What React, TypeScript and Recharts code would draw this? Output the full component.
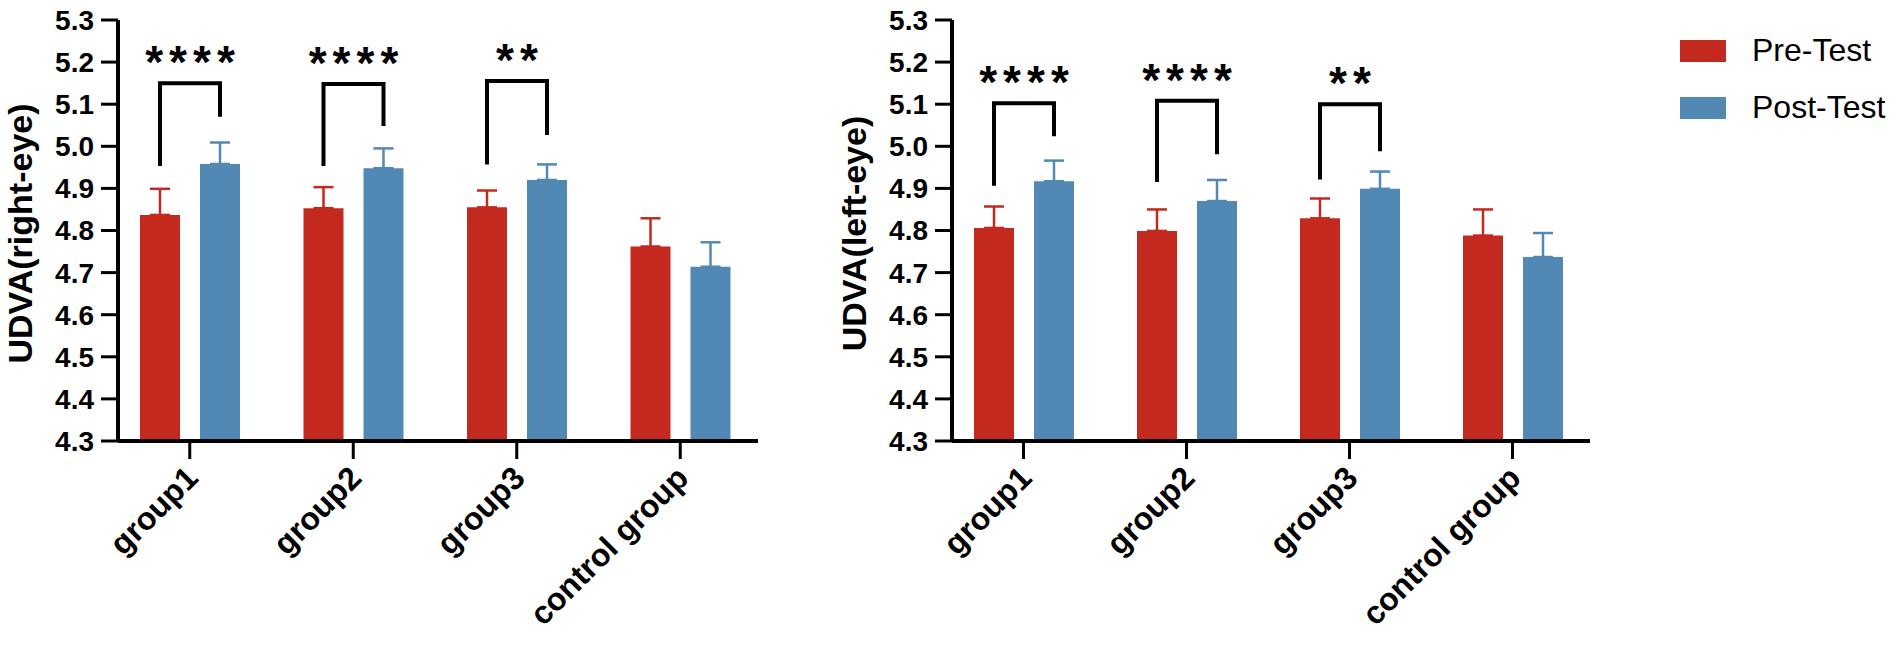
import { Bar, BarChart, ErrorBar, LabelList, Legend, XAxis, YAxis } from "recharts";

// categories and tick labels
const CATEGORIES = ["group1", "group2", "group3", "control group"];
const Y_TICKS = [4.3, 4.4, 4.5, 4.6, 4.7, 4.8, 4.9, 5.0, 5.1, 5.2, 5.3];
const SERIES = ["Pre-Test", "Post-Test"];

// right eye: means and SD (upper whisker only)
const RIGHT_PRE = [4.837, 4.853, 4.855, 4.762];
const RIGHT_PRE_SD = [0.062, 0.05, 0.04, 0.067];
const RIGHT_POST = [4.958, 4.948, 4.92, 4.714];
const RIGHT_POST_SD = [0.051, 0.047, 0.037, 0.058];

// left eye
const LEFT_PRE = [4.806, 4.799, 4.829, 4.788];
const LEFT_PRE_SD = [0.051, 0.051, 0.047, 0.062];
const LEFT_POST = [4.917, 4.87, 4.899, 4.737];
const LEFT_POST_SD = [0.049, 0.05, 0.041, 0.057];

// significance brackets (data units): top, pre-leg end, post-leg end, stars
const RIGHT_BRACKET_TOP = [5.15, 5.148, 5.155];
const RIGHT_BRACKET_PRE = [4.953, 4.953, 4.957];
const RIGHT_BRACKET_POST = [5.07, 5.048, 5.027];
const RIGHT_STARS = ["****", "****", "**"];

const LEFT_BRACKET_TOP = [5.102, 5.108, 5.1];
const LEFT_BRACKET_PRE = [4.906, 4.915, 4.921];
const LEFT_BRACKET_POST = [5.024, 4.981, 4.988];
const LEFT_STARS = ["****", "****", "**"];

const RED = "#C3291F";
const BLUE = "#5189B4";
const FONT = "'Liberation Sans', Arial, Helvetica, sans-serif";
const Y_MIN = 4.3;
const BAR_SIZE = 40;
const BAR_GAP = 20;

const buildRows = (pre: number[], preSd: number[], post: number[], postSd: number[]) =>
    CATEGORIES.map((name, i) => ({
        name,
        pre: pre[i],
        post: post[i],
        preErr: [0, preSd[i]],
        postErr: [0, postSd[i]],
    }));

const XTick = (props: any) => {
    const { x, y, payload } = props;
    const px = x + 10;
    const py = y + 19;
    return (
        <text
            x={px}
            y={py}
            transform={`rotate(-45 ${px} ${py})`}
            textAnchor="end"
            fontFamily={FONT}
            fontWeight="bold"
            fontSize={32}
            fill="#000"
        >
            {payload.value}
        </text>
    );
};

const YLabel = (props: any) => {
    const vb = props.viewBox ?? props;
    const cx = vb.x - 6;
    const cy = vb.y + vb.height / 2 + 3;
    return (
        <text
            x={cx}
            y={cy}
            transform={`rotate(-90 ${cx} ${cy})`}
            textAnchor="middle"
            fontFamily={FONT}
            fontWeight="bold"
            fontSize={34}
            fill="#000"
        >
            {props.text}
        </text>
    );
};

const makeBracket = (post: number[], tops: number[], preEnds: number[], postEnds: number[], stars: string[]) =>
    (props: any) => {
        const index = props.index;
        const mark = stars[index];
        if (!mark) return null;
        const vb = props.viewBox ?? props;
        const { x, y, width, height } = vb;
        const base = y + height;
        const perUnit = height / (post[index] - Y_MIN);
        const py = (v: number) => base - (v - Y_MIN) * perUnit;
        const rx = x + width / 2;
        const lx = rx - width - BAR_GAP;
        const top = py(tops[index]);
        return (
            <g>
                <path
                    d={`M${lx},${py(preEnds[index])} V${top} H${rx} V${py(postEnds[index])}`}
                    stroke="#000"
                    strokeWidth={4}
                    fill="none"
                />
                <text
                    x={(lx + rx) / 2 + 3}
                    y={top - 5}
                    textAnchor="middle"
                    fontFamily={FONT}
                    fontWeight="bold"
                    fontSize={46}
                    letterSpacing={6}
                    fill="#000"
                >
                    {mark}
                </text>
            </g>
        );
    };

const LegendBox = (props: any) => {
    const items = [...(props.payload ?? [])].sort(
        (a: any, b: any) => SERIES.indexOf(a.value) - SERIES.indexOf(b.value)
    );
    return (
        <div style={{ fontFamily: FONT }}>
            {items.map((p: any) => (
                <div key={p.value} style={{ display: "flex", alignItems: "center", height: 57 }}>
                    <div style={{ width: 46, height: 22, background: p.color }} />
                    <span style={{ marginLeft: 26, fontSize: 32, color: "#000" }}>{p.value}</span>
                </div>
            ))}
        </div>
    );
};

type PanelProps = {
    left: number;
    width: number;
    rightMargin: number;
    label: string;
    pre: number[];
    preSd: number[];
    post: number[];
    postSd: number[];
    tops: number[];
    preEnds: number[];
    postEnds: number[];
    stars: string[];
    legend?: boolean;
};

const Panel = (p: PanelProps) => {
    const rows = buildRows(p.pre, p.preSd, p.post, p.postSd);
    return (
        <div style={{ position: "absolute", left: p.left, top: 0 }}>
            <BarChart
                width={p.width}
                height={645}
                data={rows}
                margin={{ top: 20, left: 38, right: p.rightMargin, bottom: 24 }}
                barSize={BAR_SIZE}
                barGap={BAR_GAP}
            >
                <XAxis
                    dataKey="name"
                    height={180}
                    interval={0}
                    padding={{ left: -10, right: -4 }}
                    axisLine={{ stroke: "#000", strokeWidth: 4 }}
                    tickLine={{ stroke: "#000", strokeWidth: 3 }}
                    tickSize={18}
                    tickMargin={2}
                    tick={<XTick />}
                />
                <YAxis
                    type="number"
                    domain={[4.3, 5.3]}
                    ticks={Y_TICKS}
                    interval={0}
                    width={80}
                    allowDataOverflow
                    tickFormatter={(v: number) => v.toFixed(1)}
                    axisLine={{ stroke: "#000", strokeWidth: 4 }}
                    tickLine={{ stroke: "#000", strokeWidth: 3 }}
                    tickSize={17}
                    tickMargin={7}
                    tick={{ fill: "#000", fontSize: 28, fontWeight: "bold", fontFamily: FONT }}
                    label={(lp: any) => <YLabel {...lp} text={p.label} />}
                />
                {p.legend && (
                    <Legend
                        layout="vertical"
                        align="center"
                        verticalAlign="middle"
                        content={<LegendBox />}
                        wrapperStyle={{ left: 846, top: 22, width: 220, height: 114 }}
                    />
                )}
                <Bar dataKey="pre" name={SERIES[0]} fill={RED} isAnimationActive={false}>
                    <ErrorBar dataKey="preErr" direction="y" width={10} stroke={RED} strokeWidth={2.5} />
                </Bar>
                <Bar dataKey="post" name={SERIES[1]} fill={BLUE} isAnimationActive={false}>
                    <ErrorBar dataKey="postErr" direction="y" width={10} stroke={BLUE} strokeWidth={2.5} />
                    <LabelList
                        dataKey="post"
                        content={makeBracket(p.post, p.tops, p.preEnds, p.postEnds, p.stars)}
                    />
                </Bar>
            </BarChart>
        </div>
    );
};

export default function App() {
    return (
        <div style={{ position: "absolute", left: 0, top: 0, width: 1902, height: 645, background: "#fff", overflow: "hidden" }}>
            <Panel
                left={0}
                width={800}
                rightMargin={42}
                label="UDVA(right-eye)"
                pre={RIGHT_PRE}
                preSd={RIGHT_PRE_SD}
                post={RIGHT_POST}
                postSd={RIGHT_POST_SD}
                tops={RIGHT_BRACKET_TOP}
                preEnds={RIGHT_BRACKET_PRE}
                postEnds={RIGHT_BRACKET_POST}
                stars={RIGHT_STARS}
            />
            <Panel
                left={834}
                width={1068}
                rightMargin={312}
                label="UDVA(left-eye)"
                pre={LEFT_PRE}
                preSd={LEFT_PRE_SD}
                post={LEFT_POST}
                postSd={LEFT_POST_SD}
                tops={LEFT_BRACKET_TOP}
                preEnds={LEFT_BRACKET_PRE}
                postEnds={LEFT_BRACKET_POST}
                stars={LEFT_STARS}
                legend
            />
        </div>
    );
}
